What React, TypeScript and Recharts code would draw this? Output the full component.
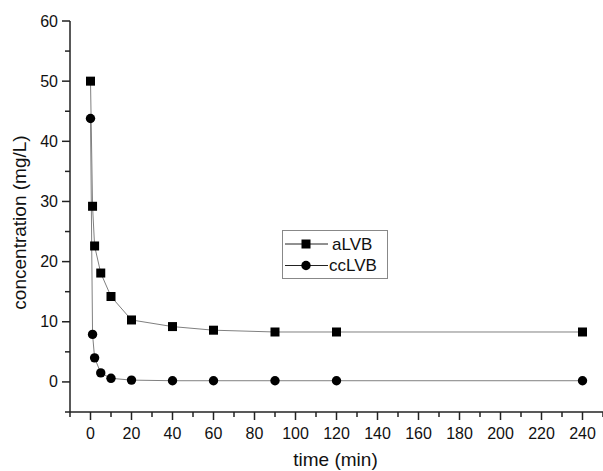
import { LineChart, Line, XAxis, YAxis } from "recharts";

const times = [0, 1, 2, 5, 10, 20, 40, 60, 90, 120, 240];
const aLVB = [50, 29.2, 22.6, 18.1, 14.2, 10.3, 9.2, 8.6, 8.3, 8.3, 8.3];
const ccLVB = [43.8, 7.9, 4.0, 1.5, 0.6, 0.3, 0.2, 0.2, 0.2, 0.2, 0.2];

const xTicks = [-10, 0, 10, 20, 30, 40, 50, 60, 70, 80, 90, 100, 110, 120, 130, 140, 150, 160, 170, 180, 190, 200, 210, 220, 230, 240, 250];
const xLabelled = [0, 20, 40, 60, 80, 100, 120, 140, 160, 180, 200, 220, 240];
const yTicks = [-5, 0, 5, 10, 15, 20, 25, 30, 35, 40, 45, 50, 55, 60];
const yLabelled = [0, 10, 20, 30, 40, 50, 60];

const data = times.map((t, i) => ({ time: t, aLVB: aLVB[i], ccLVB: ccLVB[i] }));

const FONT = "Arial, 'Liberation Sans', sans-serif";
const AXIS = "#222";
const LINE = "#808080";

const SquareDot = (props: any) => {
  const { cx, cy } = props;
  if (cx == null || cy == null) return null;
  return <rect x={cx - 4.5} y={cy - 4.5} width={9} height={9} fill="#000" />;
};

const CircleDot = (props: any) => {
  const { cx, cy } = props;
  if (cx == null || cy == null) return null;
  return <circle cx={cx} cy={cy} r={4.7} fill="#000" />;
};

const XTick = (props: any) => {
  const { x, y, payload } = props;
  const major = xLabelled.includes(payload.value);
  return (
    <g>
      <line x1={x} x2={x} y1={y} y2={y + (major ? 8 : 5)} stroke={AXIS} strokeWidth={1.5} />
      {major && (
        <text x={x} y={y + 21} textAnchor="middle" dominantBaseline="central" fontSize={16} fontFamily={FONT} fill="#111">
          {payload.value}
        </text>
      )}
    </g>
  );
};

const YTick = (props: any) => {
  const { x, y, payload } = props;
  const major = yLabelled.includes(payload.value);
  return (
    <g>
      <line x1={x} x2={x - (major ? 8 : 5)} y1={y} y2={y} stroke={AXIS} strokeWidth={1.5} />
      {major && (
        <text x={x - 12} y={y} textAnchor="end" dominantBaseline="central" fontSize={16} fontFamily={FONT} fill="#111">
          {payload.value}
        </text>
      )}
    </g>
  );
};

const LegendBox = () => (
  <svg width={107} height={50} style={{ display: "block" }}>
    <rect x={0.5} y={0.5} width={105} height={48} fill="#fff" stroke="#888" />
    <line x1={3} x2={46} y1={14} y2={14} stroke="#222" />
    <rect x={19.5} y={9.5} width={9} height={9} fill="#000" />
    <text x={50} y={14} dominantBaseline="central" fontSize={17} fontFamily={FONT} fill="#111">
      aLVB
    </text>
    <line x1={3} x2={46} y1={35.5} y2={35.5} stroke="#222" />
    <circle cx={24} cy={35.5} r={4.7} fill="#000" />
    <text x={47} y={35.5} dominantBaseline="central" fontSize={17} fontFamily={FONT} fill="#111">
      ccLVB
    </text>
  </svg>
);

export default function App() {
  return (
    <div style={{ position: "absolute", left: 0, top: 0, width: 603, height: 471, background: "#fff" }}>
      <LineChart width={603} height={471} data={data} margin={{ top: 21, right: 0, bottom: 0, left: 0 }}>
        <XAxis
          dataKey="time"
          type="number"
          domain={[-10, 250]}
          ticks={xTicks}
          interval={0}
          tickSize={0}
          tickMargin={0}
          tickLine={false}
          tick={XTick}
          height={59}
          axisLine={{ stroke: AXIS, strokeWidth: 1.5 }}
          allowDataOverflow
          label={(p: any) => {
            const vb = p.viewBox || { x: 70, y: 412, width: 533 };
            return (
              <text x={vb.x + vb.width / 2 - 1} y={vb.y + 47} textAnchor="middle" dominantBaseline="central" fontSize={19} fontFamily={FONT} fill="#111">
                time (min)
              </text>
            );
          }}
        />
        <YAxis
          type="number"
          domain={[-5, 60]}
          ticks={yTicks}
          interval={0}
          tickSize={0}
          tickMargin={0}
          tickLine={false}
          tick={YTick}
          width={70}
          axisLine={{ stroke: AXIS, strokeWidth: 1.5 }}
          allowDataOverflow
          label={(p: any) => {
            const vb = p.viewBox || { x: 0, y: 21, height: 391 };
            const cy = vb.y + vb.height / 2 + 6;
            return (
              <text x={19} y={cy} transform={`rotate(-90 19 ${cy})`} textAnchor="middle" dominantBaseline="central" fontSize={19} fontFamily={FONT} fill="#111">
                concentration (mg/L)
              </text>
            );
          }}
        />
        <Line
          dataKey="aLVB"
          name="aLVB"
          stroke={LINE}
          strokeWidth={1}
          dot={<SquareDot />}
          activeDot={false}
          isAnimationActive={false}
          type="linear"
        />
        <Line
          dataKey="ccLVB"
          name="ccLVB"
          stroke={LINE}
          strokeWidth={1}
          dot={<CircleDot />}
          activeDot={false}
          isAnimationActive={false}
          type="linear"
        />
      </LineChart>
      <div style={{ position: "absolute", left: 282, top: 230 }}>
        <LegendBox />
      </div>
    </div>
  );
}
